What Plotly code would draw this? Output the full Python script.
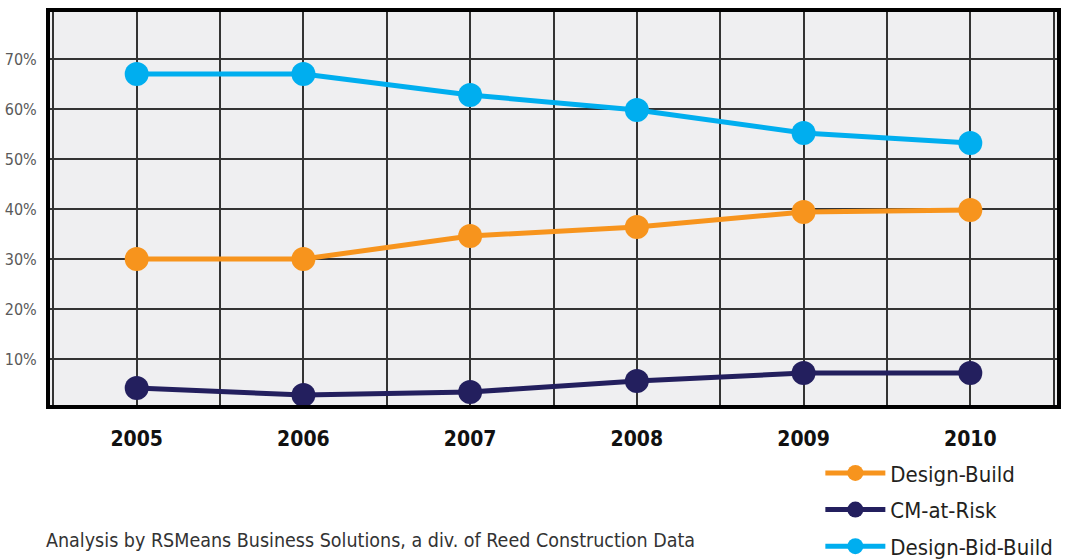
import plotly.graph_objects as go

years = ["2005", "2006", "2007", "2008", "2009", "2010"]
design_build = [30.0, 30.0, 34.6, 36.4, 39.4, 39.8]
cm_at_risk = [4.2, 2.8, 3.4, 5.6, 7.2, 7.2]
design_bid_build = [67.0, 67.0, 62.8, 59.8, 55.2, 53.2]
y_ticks = [10, 20, 30, 40, 50, 60, 70]
y_tick_text = ["10%", "20%", "30%", "40%", "50%", "60%", "70%"]

x_idx = list(range(len(years)))
FONT = "DejaVu Sans Condensed, Liberation Sans Narrow, sans-serif"

series = [
    ("Design-Build", design_build, "#F7941D"),
    ("CM-at-Risk", cm_at_risk, "#231F5E"),
    ("Design-Bid-Build", design_bid_build, "#00AEEF"),
]

fig = go.Figure()
for i, (name, vals, col) in enumerate(series):
    fig.add_trace(go.Scatter(
        x=x_idx, y=vals, name=name, mode="lines+markers",
        line=dict(color=col, width=5),
        marker=dict(color=col, size=24),
        legendgroup=f"g{i}",
    ))

# vertical grid at every half step, labels only at integer positions
xt = [i * 0.5 for i in range(-1, 12)]
xtt = [years[int(v)] if float(v).is_integer() and 0 <= v < len(years) else "" for v in xt]

fig.update_layout(
    width=1065, height=560,
    margin=dict(l=50, r=8, t=12, b=155, autoexpand=False),
    paper_bgcolor="white",
    plot_bgcolor="#EFEFF1",
    font=dict(family=FONT, color="#222"),
    showlegend=True,
    legend=dict(
        x=0.765, y=-0.12, xref="paper", yref="paper",
        xanchor="left", yanchor="top",
        font=dict(size=22, color="#231F20", family=FONT),
        traceorder="grouped", tracegroupgap=5,
        itemwidth=60,
        bgcolor="rgba(0,0,0,0)",
    ),
    xaxis=dict(
        range=[-0.52, 5.52], tickvals=xt, ticktext=xtt,
        showgrid=True, gridcolor="#333333", gridwidth=2,
        zeroline=False,
        showline=True, linecolor="black", linewidth=4, mirror=True,
        ticks="outside", ticklen=12, tickcolor="rgba(0,0,0,0)",
        tickfont=dict(size=21, color="#111", family=FONT, weight="bold"),
        fixedrange=True,
    ),
    yaxis=dict(
        range=[0.8, 79.4], tickvals=y_ticks, ticktext=y_tick_text,
        showgrid=True, gridcolor="#333333", gridwidth=2,
        zeroline=False,
        showline=True, linecolor="black", linewidth=4, mirror=True,
        ticks="outside", ticklen=6, tickcolor="rgba(0,0,0,0)",
        tickfont=dict(size=16, color="#5a5a5a", family=FONT),
        fixedrange=True,
    ),
    annotations=[dict(
        text="Analysis by RSMeans Business Solutions, a div. of Reed Construction Data",
        xref="paper", yref="paper", x=-0.006, y=-0.345,
        xanchor="left", yanchor="middle", showarrow=False,
        font=dict(size=19.5, color="#333", family=FONT),
    )],
)

fig.write_html("out.html")
